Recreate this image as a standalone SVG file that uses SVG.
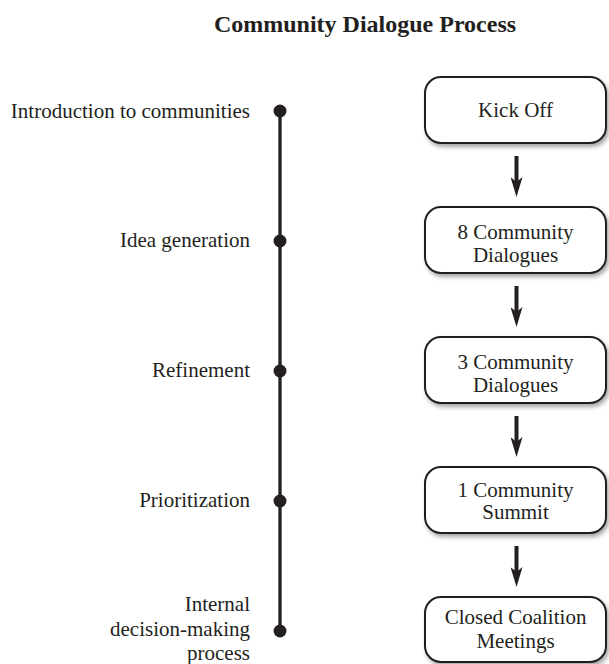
<svg xmlns="http://www.w3.org/2000/svg" width="609" height="664" viewBox="0 0 609 664">
<style>
text{font-family:"Liberation Serif","Times New Roman",serif;fill:#231f20;font-size:21px}
.title{font-weight:bold;font-size:24px;text-anchor:middle}
.lbl{text-anchor:end}
.bt{text-anchor:middle}
.box{fill:#fff;stroke:#231f20;stroke-width:2}
.tl{stroke:#231f20;stroke-width:3.3;fill:none}
.conn{stroke:#231f20;stroke-width:4;fill:none}
.dot{fill:#231f20}
</style>
<defs>
<filter id="sh" x="-10%" y="-10%" width="125%" height="135%">
<feDropShadow dx="2" dy="3" stdDeviation="2" flood-color="#000" flood-opacity="0.35"/>
</filter>
<marker id="ah" viewBox="0 0 20 12" refX="8" refY="6" markerWidth="20" markerHeight="12" markerUnits="userSpaceOnUse" orient="auto">
<path d="M0,0 L20,6 L0,12 L5,6 z" fill="#231f20"/>
</marker>
</defs>
<text class="title" x="365" y="32">Community Dialogue Process</text>
<g id="timeline">
<line class="tl" x1="280" y1="111" x2="280" y2="631"/>
</g>
<g id="stage1"><circle class="dot" cx="280" cy="111" r="6.5"/><text class="lbl" x="250" y="118">Introduction to communities</text></g>
<g id="stage2"><circle class="dot" cx="280" cy="241" r="6.5"/><text class="lbl" x="250" y="247">Idea generation</text></g>
<g id="stage3"><circle class="dot" cx="280" cy="371" r="6.5"/><text class="lbl" x="250" y="377">Refinement</text></g>
<g id="stage4"><circle class="dot" cx="280" cy="501" r="6.5"/><text class="lbl" x="250" y="507">Prioritization</text></g>
<g id="stage5"><circle class="dot" cx="280" cy="631" r="6.5"/><text class="lbl" x="250" y="611">Internal</text><text class="lbl" x="250" y="636">decision-making</text><text class="lbl" x="250" y="660">process</text></g>
<g id="connectors">
<line class="conn" x1="516.5" y1="156" x2="516.5" y2="185" marker-end="url(#ah)"/>
<line class="conn" x1="516.5" y1="286" x2="516.5" y2="315" marker-end="url(#ah)"/>
<line class="conn" x1="516.5" y1="416" x2="516.5" y2="445" marker-end="url(#ah)"/>
<line class="conn" x1="516.5" y1="546" x2="516.5" y2="575" marker-end="url(#ah)"/>
</g>
<g id="kickoff"><rect class="box" filter="url(#sh)" x="425" y="77" width="181" height="66" rx="16"/><text class="bt" x="515.5" y="117">Kick Off</text></g>
<g id="dialogues8"><rect class="box" filter="url(#sh)" x="425" y="207" width="181" height="66" rx="16"/><text class="bt" x="515.5" y="239">8 Community</text><text class="bt" x="515.5" y="262">Dialogues</text></g>
<g id="dialogues3"><rect class="box" filter="url(#sh)" x="425" y="337" width="181" height="66" rx="16"/><text class="bt" x="515.5" y="369">3 Community</text><text class="bt" x="515.5" y="392">Dialogues</text></g>
<g id="summit"><rect class="box" filter="url(#sh)" x="425" y="467" width="181" height="66" rx="16"/><text class="bt" x="515.5" y="497">1 Community</text><text class="bt" x="515.5" y="519">Summit</text></g>
<g id="coalition"><rect class="box" filter="url(#sh)" x="425" y="597" width="181" height="65" rx="16"/><text class="bt" x="515.5" y="624">Closed Coalition</text><text class="bt" x="515.5" y="648">Meetings</text></g>
</svg>
